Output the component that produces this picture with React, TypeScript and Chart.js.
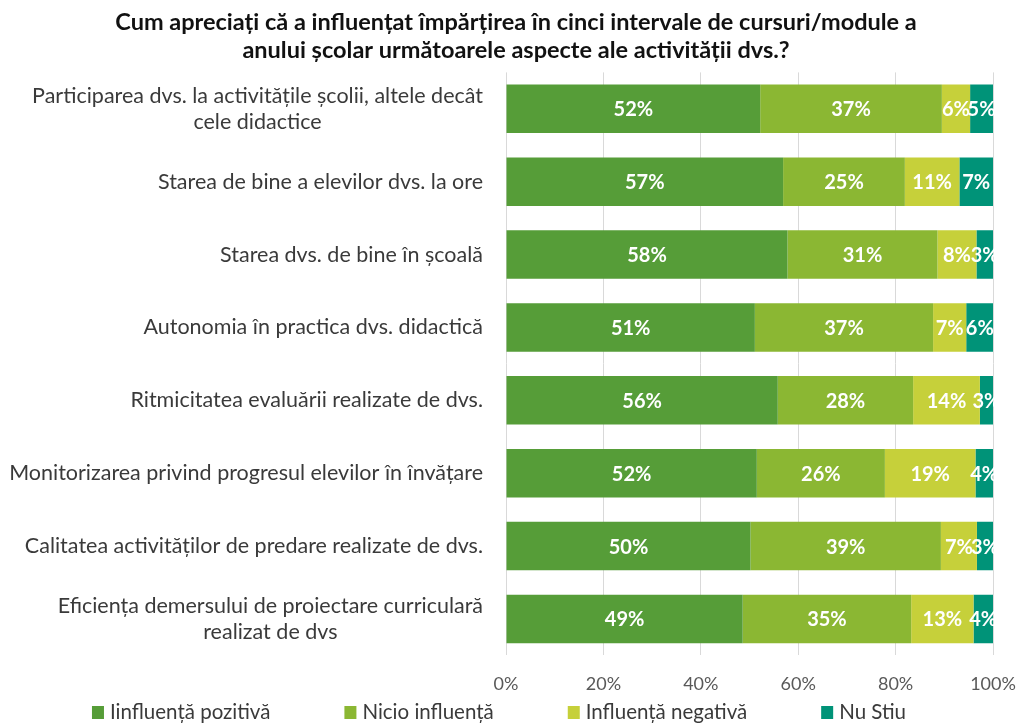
import React, { useEffect, useRef } from "react";
import { Chart, registerables } from "chart.js";

Chart.register(...registerables);

const TITLE = [
  "Cum apreciați că a influențat împărțirea în cinci intervale de cursuri/module a",
  "anului școlar următoarele aspecte ale activității dvs.?",
];

const categories: (string | string[])[] = [
  ["Participarea dvs. la activitățile școlii, altele decât", "cele didactice"],
  "Starea de bine a elevilor dvs. la ore",
  "Starea dvs. de bine în școală",
  "Autonomia în practica dvs. didactică",
  "Ritmicitatea evaluării realizate de dvs.",
  "Monitorizarea privind progresul elevilor în învățare",
  "Calitatea activităților de predare realizate de dvs.",
  ["Eficiența demersului de proiectare curriculară", "realizat de dvs"],
];

const seriesNames = ["Iinfluență pozitivă", "Nicio influență", "Influență negativă", "Nu Stiu"];

const pozitiva = [52.2, 56.9, 57.8, 51.1, 55.8, 51.5, 50.2, 48.6];
const nicio = [37.3, 25.0, 30.8, 36.6, 27.8, 26.3, 39.1, 34.6];
const negativa = [5.8, 11.2, 8.0, 6.8, 13.7, 18.6, 7.4, 12.8];
const nuStiu = [4.7, 6.9, 3.4, 5.6, 2.7, 3.6, 3.3, 4.0];

const xTicks = [0, 20, 40, 60, 80, 100];

const colors = ["#569D38", "#8BB733", "#C6D03A", "#009378"];

const FONT = "Lato, 'Noto Sans', sans-serif";
const TEXT_COLOR = "#3A3A3A";

const yLabelPlugin = {
  id: "yLabels",
  afterDraw(chart: any) {
    const ctx = chart.ctx;
    const yScale = chart.scales.y;
    const rightX = chart.chartArea.left - 23;
    ctx.save();
    ctx.font = `21.5px ${FONT}`;
    ctx.fillStyle = TEXT_COLOR;
    ctx.textBaseline = "middle";
    ctx.textAlign = "center";
    categories.forEach((lab, i) => {
      const lines = Array.isArray(lab) ? lab : [lab];
      const w = Math.max(...lines.map((l) => ctx.measureText(l).width));
      const cx = rightX - w / 2;
      const yc = yScale.getPixelForTick(i);
      const lh = 26;
      lines.forEach((l, j) => {
        const y = yc + (j - (lines.length - 1) / 2) * lh;
        ctx.fillText(l, cx, y);
      });
    });
    ctx.restore();
  },
};

const legendPlugin = {
  id: "customLegend",
  afterDraw(chart: any) {
    const ctx = chart.ctx;
    ctx.save();
    ctx.font = `20.5px ${FONT}`;
    ctx.textBaseline = "middle";
    ctx.textAlign = "left";
    const box = 12;
    const gapText = 6;
    const gapItem = 74;
    const widths = seriesNames.map((n) => box + gapText + ctx.measureText(n).width);
    const total = widths.reduce((a, b) => a + b, 0) + gapItem * (seriesNames.length - 1);
    let x = chart.width / 2 - 10 - total / 2;
    const y = chart.height - 12;
    seriesNames.forEach((n, i) => {
      ctx.fillStyle = colors[i];
      ctx.fillRect(x, y - 6, box, box + 1);
      ctx.fillStyle = TEXT_COLOR;
      ctx.fillText(n, x + box + gapText, y);
      x += widths[i] + gapItem;
    });
    ctx.restore();
  },
};

const dataLabelPlugin = {
  id: "dataLabels",
  afterDatasetsDraw(chart: any) {
    const ctx = chart.ctx;
    ctx.save();
    ctx.font = `bold 20px ${FONT}`;
    ctx.fillStyle = "#FFFFFF";
    ctx.textAlign = "center";
    ctx.textBaseline = "middle";
    chart.data.datasets.forEach((ds: any, di: number) => {
      const meta = chart.getDatasetMeta(di);
      meta.data.forEach((el: any, i: number) => {
        const p = el.getProps(["x", "y", "base"], true);
        const cx = (p.x + p.base) / 2;
        ctx.fillText(Math.round(ds.data[i]) + "%", cx, p.y + 1);
      });
    });
    ctx.restore();
  },
};

export default function App() {
  const ref = useRef<HTMLCanvasElement>(null);

  useEffect(() => {
    if (!ref.current) return;
    const series = [pozitiva, nicio, negativa, nuStiu];
    const chart = new Chart(ref.current, {
      type: "bar",
      data: {
        labels: categories as any,
        datasets: series.map((d, i) => ({
          label: seriesNames[i],
          data: d,
          backgroundColor: colors[i],
          borderWidth: 0,
          categoryPercentage: 1,
          barPercentage: 0.665,
        })),
      },
      options: {
        indexAxis: "y",
        animation: false,
        responsive: true,
        maintainAspectRatio: false,
        layout: { padding: { left: 39, right: 25, top: 8, bottom: 11 } },
        scales: {
          x: {
            stacked: true,
            min: 0,
            max: 100,
            afterBuildTicks: (scale: any) => {
              scale.ticks = xTicks.map((v) => ({ value: v }));
            },
            afterFit: (scale: any) => {
              scale.paddingLeft = 0;
              scale.paddingRight = 0;
            },
            ticks: {
              callback: (v: any) => v + "%",
              font: { family: FONT, size: 18, lineHeight: 1.2 },
              color: "#595959",
              padding: 18,
            },
            grid: { color: "#D9D9D9", drawTicks: false },
            border: { display: false },
          },
          y: {
            stacked: true,
            ticks: { display: false },
            grid: { display: false },
            border: { display: false },
            afterFit: (scale: any) => {
              scale.width = 467;
            },
          },
        },
        plugins: {
          title: {
            display: true,
            text: TITLE,
            font: { family: FONT, size: 23.5, weight: "bold", lineHeight: 1.2 },
            color: "#111111",
            padding: { top: 0, bottom: 8 },
          },
          legend: { display: false },
          tooltip: { enabled: false },
        },
      },
      plugins: [yLabelPlugin, dataLabelPlugin, legendPlugin],
    });
    return () => chart.destroy();
  }, []);

  return (
    <div style={{ position: "fixed", left: 0, top: 0, width: 1018, height: 724, background: "#fff" }}>
      <canvas ref={ref} />
    </div>
  );
}
